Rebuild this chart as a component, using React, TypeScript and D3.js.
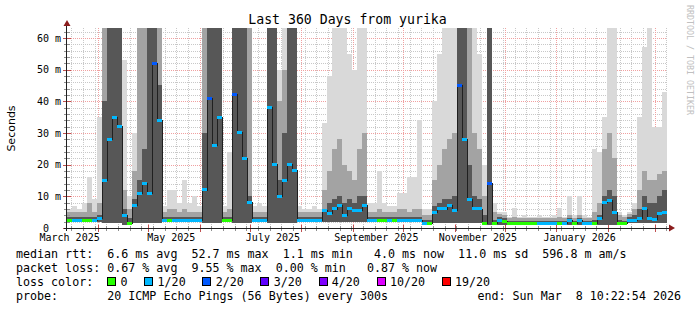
import React from "react";
import * as d3 from "d3";

const W = 697;
const H = 310;
const END_TIME = Date.UTC(2026, 2, 8, 10, 22, 54);
const SPAN_DAYS = 360;
const STEP_DAYS = 3;
const DAY_MS = 86400000;

// median rtt per 3-day step (ms)
const medianMs = [
  2.5, 2.5, 2.5, 2.5, 2.5, 2.5, 3, 15, 28, 35,
  32, 4, 1.3, 7, 11, 14, 11, 52, 34, 2.5,
  2.5, 2.5, 2.5, 2.5, 2.5, 2.5, 2.5, 12, 41, 26,
  35, 2.5, 2.5, 42, 30, 22, 8, 2.5, 2.5, 2.5,
  38, 20, 10, 15, 20, 18, 2.5, 2.5, 2.5, 2.5,
  2.5, 5.5, 4.5, 6, 7, 4, 6, 5.5, 5.5, 7,
  2.5, 2.5, 2.5, 2.5, 2.5, 2.5, 2.5, 2.5, 2.5, 2.5,
  2.5, 1.5, 1.5, 5, 6, 6, 7, 5.5, 45, 28,
  9, 6, 6, 1.5, 14, 1.5, 2.5, 2, 1.5, 1.5,
  1.5, 1.5, 1.5, 1.5, 1.5, 1.5, 1.5, 1.5, 1.5, 1.5,
  2.5, 1.5, 2.5, 1.5, 1.5, 1.5, 3, 8, 8.8, 5,
  1.5, 1.5, 2.5, 2.5, 3, 6, 3, 2.8, 4.6, 5,
];
// loss colour class per step (0 = 0, 1 = 1/20, 2 = 2/20 ...)
const lossIdx = [
  0, 1, 1, 0, 0, 1, 1, 1, 1, 1,
  1, 1, 0, 1, 1, 1, 1, 2, 1, 1,
  0, 1, 1, 1, 1, 1, 1, 1, 2, 1,
  1, 0, 0, 2, 1, 1, 1, 1, 1, 1,
  1, 1, 1, 1, 1, 1, 1, 1, 1, 1,
  1, 1, 1, 1, 1, 1, 1, 1, 1, 1,
  1, 1, 0, 0, 1, 0, 1, 1, 1, 1,
  1, 1, 0, 1, 1, 1, 1, 1, 2, 1,
  1, 1, 1, 0, 2, 0, 1, 0, 0, 0,
  0, 0, 0, 0, 1, 1, 1, 1, 0, 1,
  1, 0, 1, 1, 1, 0, 1, 1, 1, 1,
  0, 0, 1, 1, 1, 1, 1, 1, 1, 1,
];
// lowest ping (ms)
const pingLow = [
  1.8, 1.8, 1.8, 1.8, 1.8, 1.8, 1.8, 1.5, 1.5, 1.5,
  1.5, 1, 1, 1.5, 1.5, 1.5, 1.5, 1.5, 1.5, 1.8,
  1.8, 1.8, 1.8, 1.8, 1.8, 1.8, 1.8, 1.5, 1.5, 1.5,
  1.5, 1.8, 1.8, 1.5, 1.5, 1.5, 1.5, 1.8, 1.8, 1.8,
  1.5, 1.5, 1.5, 1.5, 1.5, 1.5, 1.8, 1.8, 1.8, 1.8,
  1.8, 2, 2, 2, 2, 2, 2, 2, 2, 2,
  1.8, 1.8, 1.8, 1.8, 1.8, 1.8, 1.8, 1.8, 1.8, 1.8,
  1.8, 1, 1, 1.5, 1.5, 1.5, 1.5, 1.5, 1.5, 1.5,
  1.5, 1.5, 1.5, 1, 1, 1, 1, 1, 1, 1,
  1, 1, 1, 1, 1, 1, 1, 1, 1, 1,
  1, 1, 1, 1, 1, 1, 1, 1, 1, 1,
  1, 1, 1.5, 1.5, 1.5, 1.5, 1.5, 1.5, 1.5, 1.5,
];
// top of dense (dark) smoke
const smokeDark = [
  3.5, 3.5, 3.5, 3.5, 3.5, 3.5, 4, 40, 63, 63,
  63, 6, 3, 9, 15, 25, 63, 63, 45, 3.5,
  3.5, 3.5, 3.5, 3.5, 3.5, 3.5, 3.5, 30, 63, 63,
  63, 3.5, 3.5, 63, 63, 63, 10, 3.5, 3.5, 3.5,
  63, 63, 15, 30, 63, 63, 3.5, 3.5, 3.5, 3.5,
  3.5, 6, 8, 9, 10, 8, 9, 8, 10, 10,
  3.5, 3.5, 3.5, 3.5, 3.5, 3.5, 3.5, 3.5, 3.5, 3.5,
  3.5, 2.5, 2.5, 7, 8, 9, 9, 10, 63, 63,
  20, 10, 9, 4, 63, 2.5, 3.5, 3, 2.2, 2.2,
  2.2, 2.2, 2.2, 2.2, 2.2, 2.2, 2.2, 2.2, 2.2, 2.2,
  3, 2.2, 3, 2.2, 2.2, 2.5, 4, 10, 12, 10,
  2.5, 2.2, 3.5, 4, 6, 10, 8, 8, 10, 12,
];
// top of medium smoke
const smokeMid = [
  5, 5, 5, 5, 8, 5, 8, 63, 63, 63,
  63, 12, 6, 18, 63, 63, 63, 63, 63, 5,
  6, 6, 5, 6, 5, 5, 5, 63, 63, 63,
  63, 5, 6, 63, 63, 63, 63, 5, 5, 5,
  63, 63, 40, 50, 63, 63, 5, 5, 5, 5,
  5, 12, 18, 25, 28, 20, 18, 15, 25, 30,
  5, 5, 6, 5, 5, 5, 6, 6, 5, 6,
  6, 4, 4, 15, 20, 25, 28, 30, 63, 63,
  63, 30, 25, 10, 63, 5, 4.5, 4, 3, 3.5,
  3, 3, 3, 3, 3, 3, 3, 3, 3.5, 3,
  4, 3, 4, 3, 3, 5, 8, 25, 30, 22,
  4, 3.5, 4.5, 6, 12, 18, 15, 15, 17, 18,
];
// top of faint smoke (highest ping)
const smokeHigh = [
  6, 7, 6, 8, 16, 9, 35, 63, 63, 63,
  63, 53, 10, 30, 63, 63, 63, 63, 63, 7,
  12, 12, 8, 15, 8, 10, 7, 63, 63, 63,
  63, 7, 24, 63, 63, 63, 63, 7, 8, 7,
  63, 63, 50, 63, 63, 63, 7, 6, 6, 7,
  6, 33, 48, 63, 63, 63, 55, 50, 63, 63,
  8, 8, 18, 8, 7, 7, 11, 11, 16, 16,
  34, 6, 6, 40, 55, 63, 63, 63, 63, 63,
  63, 63, 55, 20, 63, 8, 5, 5, 3.6, 6.3,
  3.6, 4, 3.6, 3.6, 4, 3.6, 3.6, 4, 6.3, 3.6,
  10, 4, 10, 4, 3.6, 25, 24, 35, 63, 63,
  5, 4, 5, 8, 35, 57, 63, 32, 32, 43,
];

const yMajor = [0, 10, 20, 30, 40, 50, 60];
const yLabels = ["0  ", "10 m", "20 m", "30 m", "40 m", "50 m", "60 m"];
const lossLabels = ["0", "1/20", "2/20", "3/20", "4/20", "10/20", "19/20"];
const lossColors = ["#26ff00", "#00b8ff", "#0059ff", "#5e00ff", "#7e00ff", "#dd00ff", "#ff0000"];
const statLine1 = "median rtt:  6.6 ms avg  52.7 ms max  1.1 ms min   4.0 ms now  11.0 ms sd  596.8 m am/s";
const statLine2 = "packet loss: 0.67 % avg  9.55 % max  0.00 % min   0.87 % now";
const probeLabel = "probe:";
const probeText = "20 ICMP Echo Pings (56 Bytes) every 300s";
const endText = "end: Sun Mar  8 10:22:54 2026";
const titleText = "Last 360 Days from yurika";

const PL = 67, PR = 667, PT = 28, PB = 228;
const MONO = "'DejaVu Sans Mono', monospace";
const CHW = 7.02;

export default function App() {
  const start = END_TIME - SPAN_DAYS * DAY_MS;
  const x = d3.scaleUtc().domain([new Date(start), new Date(END_TIME)]).range([PL, PR]);
  const y = d3.scaleLinear().domain([0, (PB - PT) / 31.667 * 10]).range([PB, PT]);
  const t = (i: number) => new Date(start + i * STEP_DAYS * DAY_MS);

  const minorY = d3.range(2, 64, 2).filter((v) => v % 10 !== 0);
  const weeks = d3.utcSunday.range(new Date(start), new Date(END_TIME));
  const months = d3.utcMonth.range(new Date(start), new Date(END_TIME));
  const labelDates = [
    Date.UTC(2025, 2, 15), Date.UTC(2025, 4, 15), Date.UTC(2025, 6, 15),
    Date.UTC(2025, 8, 15), Date.UTC(2025, 10, 15), Date.UTC(2026, 0, 15),
  ].map((d) => new Date(d));
  const fmt = d3.utcFormat("%B %Y");

  const band = (hi: number[], color: string, key: string) =>
    medianMs.map((_, i) => {
      const x0 = x(t(i));
      const x1 = x(t(i + 1));
      const yTop = y(hi[i]);
      const yBot = y(pingLow[i]);
      return (
        <rect key={key + i} x={x0} y={yTop} width={x1 - x0} height={Math.max(0, yBot - yTop)} fill={color} />
      );
    });

  const medPts: [number, number][] = medianMs.map((m, i) => [x(t(i)), y(m)]);
  medPts.push([x(t(medianMs.length)), y(medianMs[medianMs.length - 1])]);
  const medLine = d3.line().curve(d3.curveStepAfter)(medPts) || "";

  const legendItems: { sx: number; lx: number; label: string; color: string }[] = [];
  let cx = 16 + 13 * CHW;
  lossLabels.forEach((lab, i) => {
    legendItems.push({ sx: cx, lx: cx + 13.3, label: lab, color: lossColors[i] });
    cx = cx + 13.3 + lab.length * CHW + 16.7;
  });

  return (
    <svg width={W} height={H} style={{ position: "absolute", left: 0, top: 0, background: "#fff" }}>
      <rect x={0} y={0} width={W} height={H} fill="#fff" />
      <defs>
        <clipPath id="plot">
          <rect x={PL} y={PT} width={PR - PL} height={PB - PT} />
        </clipPath>
      </defs>
      <g shapeRendering="crispEdges">
        {weeks.map((d, i) => (
          <line key={"wg" + i} x1={Math.round(x(d)) + 0.5} x2={Math.round(x(d)) + 0.5} y1={PT} y2={PB}
            stroke="#c8c8c8" strokeDasharray="1,1" />
        ))}
        {minorY.map((v) => (
          <line key={"yg" + v} x1={PL} x2={PR} y1={Math.round(y(v)) + 0.5} y2={Math.round(y(v)) + 0.5}
            stroke="#c8c8c8" strokeDasharray="1,1" />
        ))}
        {months.map((d, i) => (
          <line key={"mg" + i} x1={Math.round(x(d)) + 0.5} x2={Math.round(x(d)) + 0.5} y1={PT} y2={PB}
            stroke="#f0a0a0" strokeDasharray="1,1" />
        ))}
        {yMajor.slice(1).map((v) => (
          <line key={"ym" + v} x1={PL} x2={PR} y1={Math.round(y(v)) + 0.5} y2={Math.round(y(v)) + 0.5}
            stroke="#f0a0a0" strokeDasharray="1,1" />
        ))}
      </g>
      <g clipPath="url(#plot)" shapeRendering="crispEdges">
        {band(smokeHigh, "#d9d9d9", "h")}
        {band(smokeMid, "#a3a3a3", "m")}
        {band(smokeDark, "#575757", "d")}
        <path d={medLine} fill="none" stroke="#202020" strokeWidth={1} />
        {medianMs.map((m, i) => {
          const x0 = x(t(i));
          const x1 = x(t(i + 1));
          return (
            <rect key={"c" + i} x={x0} y={y(m) - 1.5} width={x1 - x0} height={3} fill={lossColors[lossIdx[i]]} />
          );
        })}
      </g>
      <g shapeRendering="crispEdges">
        {minorY.map((v) => (
          <line key={"yt" + v} x1={64} x2={70} y1={Math.round(y(v)) + 0.5} y2={Math.round(y(v)) + 0.5} stroke="#909090" />
        ))}
        {yMajor.map((v) => (
          <line key={"ytm" + v} x1={63} x2={71} y1={Math.round(y(v)) + 0.5} y2={Math.round(y(v)) + 0.5} stroke="#c05050" />
        ))}
        {weeks.map((d, i) => (
          <line key={"wt" + i} x1={Math.round(x(d)) + 0.5} x2={Math.round(x(d)) + 0.5} y1={226} y2={231} stroke="#909090" />
        ))}
        {months.map((d, i) => (
          <line key={"mt" + i} x1={Math.round(x(d)) + 0.5} x2={Math.round(x(d)) + 0.5} y1={225} y2={232} stroke="#c05050" />
        ))}
        <line x1={64} x2={670} y1={PB + 0.5} y2={PB + 0.5} stroke="#202020" />
        <line x1={PL - 0.5} x2={PL - 0.5} y1={231} y2={24} stroke="#202020" />
      </g>
      <path d="M63.5,26 L70.5,26 L67,20 Z" fill="#8b1c1c" />
      <path d="M669,224.5 L669,231.5 L675,228 Z" fill="#8b1c1c" />
      {yMajor.map((v, i) => (
        <text key={"yl" + v} x={61} y={y(v) + 3.6} textAnchor="end" fontFamily={MONO} fontSize={10} fill="#000"
          xmlSpace="preserve" style={{ whiteSpace: "pre" }}>
          {yLabels[i]}
        </text>
      ))}
      {labelDates.map((d, i) => (
        <text key={"xl" + i} x={x(d)} y={240.5} textAnchor="middle" fontFamily={MONO} fontSize={10} fill="#000">
          {fmt(d)}
        </text>
      ))}
      <text transform="translate(14.5,128.5) rotate(-90)" textAnchor="middle" fontFamily="'DejaVu Sans', sans-serif" fontSize={11} fill="#000">
        Seconds
      </text>
      <text x={347.5} y={24} textAnchor="middle" fontFamily={MONO} fontSize={13.2} fill="#000">
        {titleText}
      </text>
      <text transform="translate(686.5,5) rotate(90)" fontFamily={MONO} fontSize={8.3} fill="#c0c0c0">
        RRDTOOL / TOBI OETIKER
      </text>
      <g fontFamily={MONO} fontSize={11.66} fill="#000" style={{ whiteSpace: "pre" }}>
        <text x={16} y={258.3} xmlSpace="preserve">{statLine1}</text>
        <text x={16} y={272.3} xmlSpace="preserve">{statLine2}</text>
        <text x={16} y={286.3} xmlSpace="preserve">loss color:</text>
        {legendItems.map((it, i) => (
          <g key={"lg" + i}>
            <rect x={Math.round(it.sx) + 0.5} y={277.5} width={8} height={8} fill={it.color} stroke="#000" strokeWidth={1} />
            <text x={it.lx} y={286.3}>{it.label}</text>
          </g>
        ))}
        <text x={16} y={300.3} xmlSpace="preserve">{probeLabel}</text>
        <text x={16 + 13 * CHW} y={300.3} xmlSpace="preserve">{probeText}</text>
        <text x={681} y={300.3} textAnchor="end" xmlSpace="preserve">{endText}</text>
      </g>
    </svg>
  );
}
